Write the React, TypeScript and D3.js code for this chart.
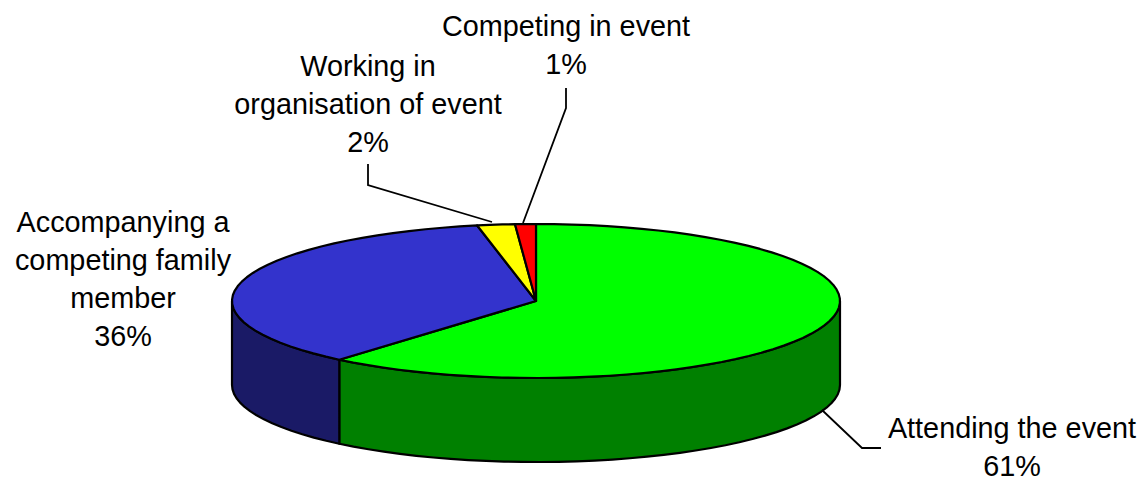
import React from "react";
import * as d3 from "d3";

const categories = ["Attending the event", "Accompanying a competing family member", "Working in organisation of event", "Competing in event"];
const values = [61.2, 35.7, 2.0, 1.1];
const topColors = ["#00ff00", "#3333cc", "#ffff00", "#ff0000"];
const sideColors = ["#008000", "#1a1a66", "#808000", "#800000"];
const labelLines = [
  ["Attending the event", "61%"],
  ["Accompanying a", "competing family", "member", "36%"],
  ["Working in", "organisation of event", "2%"],
  ["Competing in event", "1%"],
];
const labelAnchors = [
  { x: 1012, y: 438 },
  { x: 123, y: 232 },
  { x: 368, y: 76 },
  { x: 566, y: 36 },
];
const leaders: [number, number][][] = [
  [[822, 410], [862, 448], [881, 448]],
  [],
  [[368, 164], [368, 185], [492, 222]],
  [[566, 88], [566, 108], [523, 223]],
];

const W = 1142, H = 477;
const cx = 536, cy = 301, rx = 304, ry = 77, depth = 84;
const lineGap = 38;

const px = (a: number) => cx + rx * Math.sin(a);
const py = (a: number) => cy - ry * Math.cos(a);

function arcPoints(a0: number, a1: number): [number, number][] {
  const n = Math.max(2, Math.ceil(Math.abs(a1 - a0) / 0.06));
  return d3.range(n + 1).map((i) => {
    const a = a0 + ((a1 - a0) * i) / n;
    return [px(a), py(a)] as [number, number];
  });
}

const lineGen = d3.line<[number, number]>();

export default function App() {
  const arcs = d3.pie<number>().sort(null).startAngle(0).endAngle(2 * Math.PI)(values);
  const sideStart = Math.PI / 2, sideEnd = (3 * Math.PI) / 2;
  return (
    <svg width={W} height={H} viewBox={`0 0 ${W} ${H}`}
      style={{ position: "absolute", left: 0, top: 0, background: "#fff" }}>
      {arcs.map((d, i) => {
        const a0 = Math.max(d.startAngle, sideStart), a1 = Math.min(d.endAngle, sideEnd);
        if (a1 <= a0) return null;
        const top = arcPoints(a0, a1);
        const bottom = top.map(([x, y]) => [x, y + depth] as [number, number]).reverse();
        return <path key={"s" + i} d={lineGen([...top, ...bottom])! + "Z"} fill={sideColors[i]}
          stroke="#000" strokeWidth={2.2} strokeLinejoin="round" />;
      })}
      {arcs.map((d, i) => (
        <path key={"t" + i} d={lineGen([[cx, cy], ...arcPoints(d.startAngle, d.endAngle)])! + "Z"}
          fill={topColors[i]} stroke="#000" strokeWidth={2.2} strokeLinejoin="round" />
      ))}
      {leaders.map((pts, i) => pts.length ? (
        <path key={"l" + i} d={lineGen(pts)!} fill="none" stroke="#000" strokeWidth={1.8} />
      ) : null)}
      {labelLines.map((lines, i) => (
        <text key={"x" + i} aria-label={categories[i]} textAnchor="middle"
          fontFamily="'Liberation Sans', Arial, sans-serif" fontSize={28.8} fill="#000">
          {lines.map((t, j) => (
            <tspan key={j} x={labelAnchors[i].x} y={labelAnchors[i].y + j * lineGap}>{t}</tspan>
          ))}
        </text>
      ))}
    </svg>
  );
}
